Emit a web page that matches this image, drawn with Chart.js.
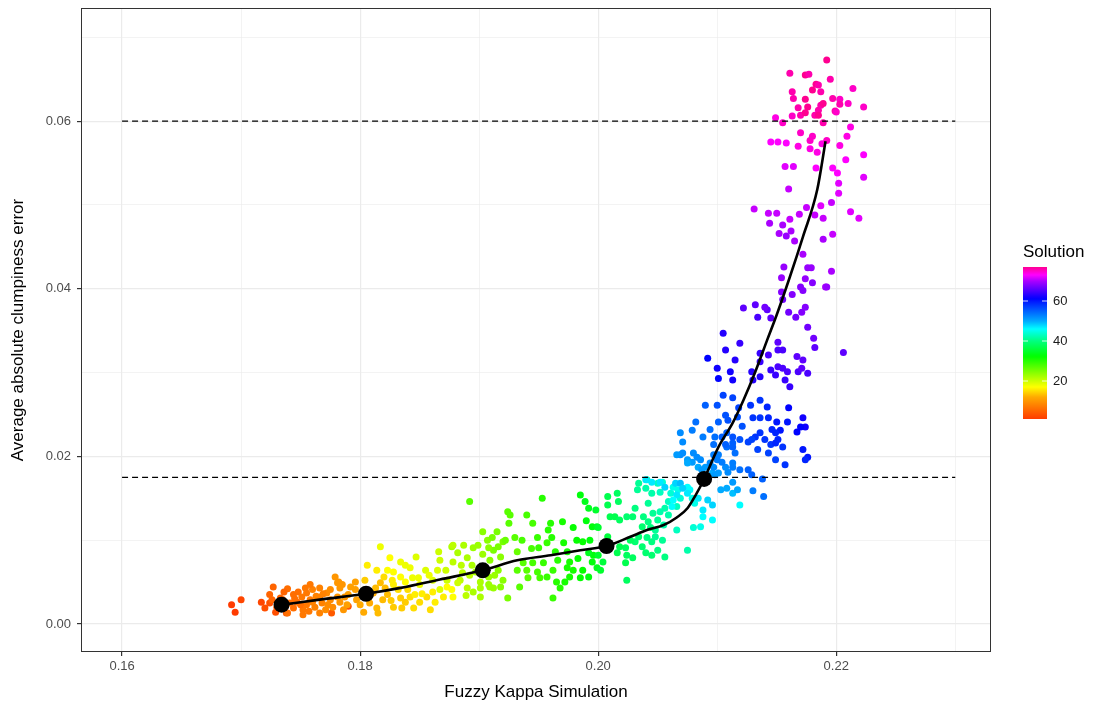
<!DOCTYPE html>
<html>
<head>
<meta charset="utf-8">
<script src="https://cdn.jsdelivr.net/npm/chart.js@4.4.0/dist/chart.umd.min.js"></script>
<style>
  body { margin: 0; background: #ffffff; }
  canvas { display: block; }
</style>
</head>
<body>
<canvas id="kappaChart" width="1103" height="707"></canvas>
<script>
// [fuzzy kappa, avg abs clumpiness error, solution]
const redOrangePts = [
  [0.1692,0.0023,1],[0.1695,0.0014,1],[0.1700,0.0029,2],[0.1717,0.0026,2],[0.1720,0.0019,3],
  [0.1724,0.0025,3],[0.1729,0.0014,3],[0.1738,0.0013,4],[0.1776,0.0013,4],[0.1790,0.0021,3],
  [0.1727,0.0044,5],[0.1739,0.0042,6],[0.1724,0.0035,5],[0.1726,0.0029,5],[0.1744,0.0035,6],
  [0.1748,0.0038,6],[0.1751,0.0032,7],[0.1755,0.0037,7],[0.1758,0.0029,7],[0.1760,0.0041,8],
  [0.1766,0.0043,8],[0.1766,0.0032,8],[0.1772,0.0037,9],[0.1775,0.0029,9],[0.1779,0.0056,10],
  [0.1781,0.0049,10],[0.1783,0.0043,10],[0.1777,0.0020,9],[0.1762,0.0020,8],[0.1752,0.0017,7],
  [0.1744,0.0019,6],[0.1739,0.0013,6],[0.1752,0.0011,7],[0.1766,0.0013,8],[0.1755,0.0023,7],
  [0.1747,0.0026,6],[0.1760,0.0026,8],[0.1768,0.0025,8],[0.1783,0.0026,10],[0.1789,0.0023,11],
  [0.1796,0.0050,11],[0.1796,0.0041,11],[0.1797,0.0029,11],[0.1790,0.0035,11],[0.1785,0.0047,10],
  [0.1782,0.0050,10],[0.1733,0.0031,5],[0.1736,0.0038,5],[0.1771,0.0017,9],[0.1763,0.0033,8],
  [0.1741,0.0025,6],[0.1754,0.0043,7],[0.1775,0.0041,9],[0.1787,0.0032,10],[0.1750,0.0023,6],
  [0.1735,0.0029,5],[0.1745,0.0030,6],[0.1757,0.0015,7],[0.1769,0.0036,8],[0.1773,0.0023,9],
  [0.1781,0.0032,10],[0.1786,0.0017,10],[0.1730,0.0020,4],[0.1758,0.0047,7],[0.1792,0.0044,11]
];
const yellowPts = [
  [0.1800,0.0023,12],[0.1803,0.0014,12],[0.1808,0.0025,12],[0.1814,0.0019,13],[0.1815,0.0013,13],
  [0.1819,0.0029,13],[0.1823,0.0035,13],[0.1828,0.0020,14],[0.1834,0.0031,14],[0.1835,0.0019,14],
  [0.1838,0.0026,14],[0.1842,0.0032,15],[0.1845,0.0019,15],[0.1811,0.0037,12],[0.1813,0.0043,13],
  [0.1817,0.0049,13],[0.1821,0.0043,13],[0.1850,0.0026,15],[0.1856,0.0032,15],[0.1859,0.0017,15],
  [0.1861,0.0038,16],[0.1863,0.0026,16],[0.1870,0.0032,16],[0.1877,0.0041,17],[0.1878,0.0032,17],
  [0.1873,0.0044,17],
  [0.1817,0.0092,18],[0.1825,0.0079,17],[0.1806,0.0070,16],[0.1814,0.0064,16],[0.1823,0.0064,17],
  [0.1828,0.0062,17],[0.1834,0.0074,18],[0.1838,0.0070,18],[0.1842,0.0067,18],[0.1834,0.0056,17],
  [0.1827,0.0052,16],[0.1838,0.0050,17],[0.1844,0.0055,18],[0.1828,0.0047,16],[0.1846,0.0035,16],
  [0.1849,0.0055,18],[0.1861,0.0052,19],[0.1866,0.0086,20],[0.1867,0.0076,20],[0.1865,0.0064,19],
  [0.1850,0.0047,18],[0.1855,0.0064,19],[0.1832,0.0041,15],[0.1804,0.0052,14],
  [0.1826,0.0028,14],[0.1840,0.0041,15],[0.1852,0.0036,16],[0.1858,0.0058,18],[0.1847,0.0080,19],
  [0.1820,0.0056,15]
];
const limePts = [
  [0.1877,0.0092,22],[0.1882,0.0085,22],[0.1878,0.0074,21],[0.1887,0.0094,22],[0.1890,0.0079,22],
  [0.1892,0.0146,27],[0.1895,0.0091,23],[0.1899,0.0094,23],[0.1903,0.0110,24],[0.1907,0.0100,24],
  [0.1909,0.0076,24],[0.1912,0.0088,25],[0.1915,0.0110,25],[0.1884,0.0052,21],[0.1890,0.0043,21],
  [0.1895,0.0038,22],[0.1901,0.0032,22],[0.1908,0.0047,23],[0.1912,0.0043,23],[0.1913,0.0058,23],
  [0.1901,0.0050,22],[0.1892,0.0058,21],[0.1882,0.0049,20],[0.1872,0.0064,20],[0.1878,0.0094,21],
  [0.1894,0.0070,22],[0.1908,0.0091,24],[0.1911,0.0103,25],[0.1916,0.0092,25],[0.1918,0.0080,24],
  [0.1886,0.0061,21],[0.1873,0.0052,20],[0.1867,0.0041,19],[0.1901,0.0043,22],[0.1908,0.0056,23],
  [0.1909,0.0044,23],[0.1916,0.0064,24],[0.1920,0.0052,24],[0.1918,0.0044,24],[0.1924,0.0031,25],
  [0.1885,0.0070,21],[0.1897,0.0062,22],[0.1904,0.0066,23],[0.1920,0.0098,25],[0.1903,0.0083,23],
  [0.1889,0.0034,21]
];
const greenPts = [
  [0.1922,0.0100,26],[0.1924,0.0134,27],[0.1926,0.0130,27],[0.1925,0.0120,27],[0.1930,0.0103,27],
  [0.1932,0.0086,26],[0.1936,0.0100,28],[0.1940,0.0130,28],[0.1945,0.0120,28],[0.1949,0.0103,29],
  [0.1950,0.0091,29],[0.1953,0.0150,30],[0.1957,0.0097,29],[0.1958,0.0112,30],[0.1961,0.0103,30],
  [0.1964,0.0086,30],[0.1966,0.0076,30],[0.1970,0.0122,31],[0.1971,0.0097,31],[0.1974,0.0086,31],
  [0.1976,0.0074,31],[0.1979,0.0115,32],[0.1982,0.0100,32],[0.1985,0.0154,33],[0.1987,0.0098,32],
  [0.1989,0.0146,34],[0.1992,0.0138,34],[0.1995,0.0116,33],[0.1993,0.0100,33],[0.1996,0.0082,33],
  [0.1999,0.0116,34],[0.1932,0.0064,27],[0.1937,0.0073,27],[0.1940,0.0064,27],[0.1941,0.0055,27],
  [0.1945,0.0073,28],[0.1949,0.0062,28],[0.1951,0.0055,28],[0.1954,0.0073,29],[0.1957,0.0056,29],
  [0.1962,0.0064,29],[0.1965,0.0050,30],[0.1968,0.0043,30],[0.1962,0.0031,29],[0.1974,0.0067,31],
  [0.1976,0.0056,31],[0.1979,0.0064,31],[0.1985,0.0055,32],[0.1987,0.0064,32],[0.1992,0.0056,33],
  [0.1995,0.0074,33],[0.1999,0.0067,34],[0.1992,0.0085,34],[0.2000,0.0082,35],[0.2002,0.0064,35],
  [0.1998,0.0136,35],[0.2000,0.0115,35],[0.2004,0.0074,36],[0.2008,0.0104,36],[0.2024,0.0052,38],
  [0.1934,0.0044,27],[0.1944,0.0090,28],[0.1960,0.0120,30],[0.1972,0.0050,31],[0.1983,0.0078,32],
  [0.1990,0.0123,33]
];
const cyanPts = [
  [0.2008,0.0152,37],[0.2008,0.0142,37],[0.2016,0.0156,38],[0.2017,0.0146,38],[0.2010,0.0128,37],
  [0.2014,0.0128,37],[0.2018,0.0124,38],[0.2024,0.0128,39],[0.2029,0.0128,39],[0.2031,0.0138,40],
  [0.2033,0.0160,41],[0.2034,0.0168,41],[0.2040,0.0162,42],[0.2041,0.0172,43],[0.2042,0.0144,41],
  [0.2045,0.0156,42],[0.2050,0.0168,43],[0.2052,0.0157,43],[0.2054,0.0169,44],[0.2038,0.0128,40],
  [0.2042,0.0122,40],[0.2046,0.0132,41],[0.2052,0.0134,42],[0.2056,0.0138,42],[0.2059,0.0146,43],
  [0.2061,0.0156,44],[0.2063,0.0163,45],[0.2067,0.0160,45],[0.2069,0.0150,44],[0.2075,0.0163,46],
  [0.2077,0.0160,46],[0.2079,0.0150,45],[0.2081,0.0144,45],[0.2066,0.0140,43],[0.2059,0.0130,42],
  [0.2055,0.0118,42],[0.2050,0.0124,41],[0.2048,0.0112,41],[0.2044,0.0115,40],[0.2041,0.0103,40],
  [0.2037,0.0116,39],[0.2034,0.0104,39],[0.2031,0.0098,39],[0.2027,0.0100,38],[0.2023,0.0091,38],
  [0.2018,0.0092,37],[0.2016,0.0085,37],[0.2024,0.0082,38],[0.2029,0.0079,38],[0.2023,0.0073,37],
  [0.2037,0.0092,39],[0.2040,0.0085,39],[0.2045,0.0098,40],[0.2048,0.0104,41],[0.2054,0.0100,41],
  [0.2056,0.0080,40],[0.2050,0.0088,40],[0.2045,0.0082,39],[0.2066,0.0112,43],[0.2075,0.0088,42],
  [0.2080,0.0115,44],[0.2086,0.0116,45],[0.2088,0.0128,46],[0.2096,0.0124,46],[0.2119,0.0142,46]
];
const azurePts = [
  [0.2040,0.0172,47],[0.2045,0.0169,47],[0.2052,0.0169,47],[0.2056,0.0163,48],[0.2065,0.0168,48],
  [0.2069,0.0168,49],[0.2071,0.0162,48],[0.2075,0.0156,47],[0.2066,0.0154,47],[0.2063,0.0148,46],
  [0.2062,0.0140,46],[0.2069,0.0202,52],[0.2071,0.0204,52],[0.2075,0.0196,51],[0.2079,0.0193,51],
  [0.2080,0.0204,52],[0.2083,0.0199,52],[0.2084,0.0187,50],[0.2090,0.0187,51],[0.2094,0.0192,52],
  [0.2097,0.0202,53],[0.2100,0.0196,53],[0.2096,0.0180,50],[0.2101,0.0180,51],[0.2103,0.0160,50],
  [0.2108,0.0162,50],[0.2113,0.0169,51],[0.2113,0.0156,49],[0.2117,0.0160,50],[0.2107,0.0187,52],
  [0.2113,0.0192,53],[0.2115,0.0204,54],[0.2108,0.0211,54],[0.2113,0.0216,55],[0.2096,0.0142,48],
  [0.2092,0.0148,48],[0.2084,0.0150,47],[0.2088,0.0136,47],[0.2138,0.0173,55],[0.2139,0.0152,54],
  [0.2130,0.0159,53]
];
const bluePts = [
  [0.2105,0.0273,57],[0.2113,0.0270,57],[0.2128,0.0261,58],[0.2136,0.0267,58],[0.2142,0.0259,59],
  [0.2090,0.0261,55],[0.2100,0.0261,56],[0.2118,0.0258,57],[0.2107,0.0249,56],[0.2109,0.0243,56],
  [0.2101,0.0241,55],[0.2082,0.0241,54],[0.2130,0.0246,58],[0.2136,0.0246,58],[0.2143,0.0246,59],
  [0.2150,0.0241,60],[0.2160,0.0258,61],[0.2159,0.0241,60],[0.2172,0.0246,62],[0.2174,0.0235,62],
  [0.2170,0.0235,61],[0.2167,0.0229,61],[0.2153,0.0231,60],[0.2149,0.0228,59],[0.2136,0.0228,58],
  [0.2132,0.0223,58],[0.2129,0.0220,57],[0.2140,0.0220,58],[0.2145,0.0214,58],[0.2149,0.0216,59],
  [0.2151,0.0220,59],[0.2126,0.0217,57],[0.2119,0.0220,56],[0.2113,0.0223,56],[0.2108,0.0228,55],
  [0.2104,0.0223,55],[0.2107,0.0214,55],[0.2113,0.0211,55],[0.2097,0.0214,54],[0.2098,0.0223,54],
  [0.2088,0.0223,53],[0.2069,0.0228,52],[0.2071,0.0217,52],[0.2079,0.0231,53],[0.2066,0.0202,51],
  [0.2075,0.0192,50],[0.2086,0.0196,52],[0.2087,0.0184,51],[0.2097,0.0187,52],[0.2101,0.0202,53],
  [0.2104,0.0193,53],[0.2113,0.0187,53],[0.2119,0.0184,54],[0.2109,0.0181,52],[0.2098,0.0178,51],
  [0.2126,0.0184,55],[0.2129,0.0178,55],[0.2143,0.0204,57],[0.2149,0.0196,57],[0.2157,0.0190,58],
  [0.2172,0.0208,60],[0.2176,0.0199,60],[0.2174,0.0196,59],[0.2155,0.0211,58],
  [0.2121,0.0236,56],[0.2134,0.0208,57],[0.2146,0.0232,59],[0.2117,0.0247,56],[0.2094,0.0232,54]
];
const violetPts = [
  [0.2122,0.0377,66],[0.2132,0.0381,66],[0.2134,0.0366,65],[0.2142,0.0375,66],[0.2145,0.0365,66],
  [0.2155,0.0387,67],[0.2160,0.0372,67],[0.2166,0.0366,67],[0.2171,0.0372,68],[0.2174,0.0378,68],
  [0.2176,0.0354,67],[0.2181,0.0341,67],[0.2182,0.0330,66],[0.2105,0.0347,63],[0.2119,0.0335,64],
  [0.2107,0.0327,63],[0.2092,0.0317,61],[0.2115,0.0315,63],[0.2100,0.0305,62],[0.2111,0.0301,62],
  [0.2101,0.0293,61],[0.2113,0.0291,62],[0.2129,0.0301,63],[0.2136,0.0323,64],[0.2136,0.0313,64],
  [0.2143,0.0321,65],[0.2151,0.0336,66],[0.2151,0.0327,65],[0.2155,0.0327,65],[0.2145,0.0303,64],
  [0.2149,0.0297,64],[0.2151,0.0307,65],[0.2155,0.0305,65],[0.2159,0.0301,65],[0.2157,0.0291,64],
  [0.2161,0.0283,64],[0.2167,0.0319,66],[0.2168,0.0301,65],[0.2172,0.0315,66],[0.2171,0.0305,66],
  [0.2176,0.0299,65],[0.2130,0.0291,63],[0.2136,0.0295,63],[0.2191,0.0402,70],[0.2206,0.0324,66],
  [0.2140,0.0378,67]
];
const magentaPts = [
  [0.2145,0.0575,73],[0.2151,0.0575,73],[0.2158,0.0574,73],[0.2168,0.0570,74],[0.2178,0.0567,74],
  [0.2184,0.0563,74],[0.2188,0.0573,74],[0.2192,0.0577,75],[0.2203,0.0571,74],[0.2223,0.0560,73],
  [0.2208,0.0554,73],[0.2157,0.0546,72],[0.2164,0.0546,72],[0.2183,0.0544,73],[0.2197,0.0544,73],
  [0.2201,0.0538,73],[0.2223,0.0533,72],[0.2202,0.0526,72],[0.2202,0.0514,72],[0.2160,0.0519,71],
  [0.2196,0.0503,71],[0.2131,0.0495,71],[0.2143,0.0490,71],[0.2150,0.0490,71],[0.2161,0.0483,71],
  [0.2169,0.0489,71],[0.2175,0.0497,71],[0.2182,0.0488,71],[0.2187,0.0499,72],[0.2189,0.0484,71],
  [0.2212,0.0492,72],[0.2219,0.0484,72],[0.2144,0.0478,70],[0.2155,0.0476,70],[0.2152,0.0466,70],
  [0.2158,0.0463,69],[0.2162,0.0469,70],[0.2165,0.0457,70],[0.2189,0.0459,70],[0.2197,0.0465,71],
  [0.2172,0.0441,70],[0.2156,0.0426,69],[0.2176,0.0425,69],[0.2179,0.0425,69],[0.2196,0.0421,70],
  [0.2154,0.0413,69],[0.2174,0.0412,69],[0.2180,0.0407,68],[0.2170,0.0402,68],[0.2192,0.0402,69],
  [0.2154,0.0396,68],[0.2172,0.0398,68],[0.2163,0.0393,68]
];
const pinkPts = [
  [0.2192,0.0673,77],[0.2161,0.0657,76],[0.2174,0.0655,77],[0.2177,0.0656,76],[0.2195,0.0650,76],
  [0.2183,0.0644,77],[0.2185,0.0643,76],[0.2163,0.0635,76],[0.2180,0.0637,77],[0.2187,0.0635,76],
  [0.2214,0.0639,75],[0.2164,0.0627,76],[0.2174,0.0626,77],[0.2197,0.0627,76],[0.2203,0.0626,75],
  [0.2203,0.0620,76],[0.2210,0.0621,75],[0.2223,0.0617,75],[0.2168,0.0616,76],[0.2176,0.0617,77],
  [0.2187,0.0619,76],[0.2189,0.0621,77],[0.2185,0.0613,76],[0.2199,0.0612,76],[0.2200,0.0611,75],
  [0.2170,0.0607,76],[0.2174,0.0610,77],[0.2163,0.0606,75],[0.2182,0.0607,76],[0.2185,0.0607,77],
  [0.2149,0.0604,74],[0.2155,0.0598,75],[0.2189,0.0598,76],[0.2212,0.0593,74],[0.2170,0.0586,75],
  [0.2180,0.0582,75],[0.2178,0.0577,75],[0.2209,0.0582,74]
];

// smoothed trend
const smoothKappa = [0.1735,0.1766,0.1805,0.1834,0.1867,0.1903,0.1932,0.1960,0.1985,0.2007,
  0.2027,0.2041,0.2055,0.2066,0.2075,0.2082,0.2089,0.2101,0.2113,0.2122,0.2132,0.2142,0.2150,
  0.2161,0.2172,0.2184,0.2191];
const smoothClump = [0.0023,0.0029,0.0036,0.0043,0.0053,0.0064,0.0076,0.0082,0.0088,0.0093,
  0.0104,0.0112,0.0118,0.0127,0.0138,0.0154,0.0173,0.0211,0.0240,0.0267,0.0301,0.0339,0.0369,
  0.0414,0.0462,0.0518,0.0576];

// highlighted solutions
const knotKappa = [0.1734, 0.1805, 0.1903, 0.2007, 0.2089];
const knotClump = [0.0023, 0.0036, 0.0064, 0.0093, 0.0173];

const thresholds = [0.06, 0.0175];
const xTickVals = [0.16, 0.17, 0.18, 0.19, 0.20, 0.21, 0.22, 0.23];
const yTickVals = [0.00, 0.01, 0.02, 0.03, 0.04, 0.05, 0.06, 0.07];
const colorbarLabels = [20, 40, 60];
const solRange = [1, 77];
const hueStops = [[1, 14], [12, 40], [20, 72], [40, 150], [50, 200], [60, 235], [70, 280], [77, 326]];

function solutionColor(s) {
  let h = hueStops[hueStops.length - 1][1];
  for (let i = 1; i < hueStops.length; i++) {
    if (s <= hueStops[i][0]) {
      let [s0, h0] = hueStops[i - 1], [s1, h1] = hueStops[i];
      h = h0 + (h1 - h0) * (s - s0) / (s1 - s0);
      break;
    }
  }
  return 'hsl(' + h.toFixed(1) + ',100%,50%)';
}

function isMajor(v) {
  return Math.round(v * 100) % 2 === 0;
}

const allPts = [].concat(redOrangePts, yellowPts, limePts, greenPts, cyanPts,
  azurePts, bluePts, violetPts, magentaPts, pinkPts);

const FONT = '"Liberation Sans", Arial, sans-serif';

// panel border + colorbar legend
const extras = {
  id: 'extras',
  afterDraw(chart) {
    const ctx = chart.ctx, a = chart.chartArea;
    ctx.save();
    ctx.strokeStyle = '#333333';
    ctx.lineWidth = 1;
    ctx.strokeRect(a.left + 0.5, a.top + 0.5, a.right - a.left - 1, a.bottom - a.top - 1);

    // colorbar
    const bx = 1023, bw = 24, top = 267, bottom = 419;
    const grad = ctx.createLinearGradient(0, bottom, 0, top);
    for (let s = solRange[0]; s <= solRange[1]; s++) {
      grad.addColorStop((s - solRange[0]) / (solRange[1] - solRange[0]), solutionColor(s));
    }
    ctx.fillStyle = grad;
    ctx.fillRect(bx, top, bw, bottom - top);

    ctx.fillStyle = '#000000';
    ctx.font = '17px ' + FONT;
    ctx.textBaseline = 'middle';
    ctx.textAlign = 'left';
    ctx.fillText('Solution', 1023, 252);

    ctx.font = '13px ' + FONT;
    ctx.fillStyle = '#1a1a1a';
    colorbarLabels.forEach(v => {
      let y = bottom - (v - solRange[0]) / (solRange[1] - solRange[0]) * (bottom - top);
      ctx.strokeStyle = 'rgba(255,255,255,0.8)';
      ctx.beginPath();
      ctx.moveTo(bx, y); ctx.lineTo(bx + 5, y);
      ctx.moveTo(bx + bw - 5, y); ctx.lineTo(bx + bw, y);
      ctx.stroke();
      ctx.fillText(String(v), 1053, y);
    });
    ctx.restore();
  }
};

new Chart(document.getElementById('kappaChart').getContext('2d'), {
  data: {
    datasets: [
      {
        type: 'scatter',
        label: 'knots',
        data: knotKappa.map((x, i) => ({ x: x, y: knotClump[i] })),
        backgroundColor: '#000000',
        borderWidth: 0,
        pointRadius: 8,
        order: 0
      },
      {
        type: 'line',
        label: 'trend',
        data: smoothKappa.map((x, i) => ({ x: x, y: smoothClump[i] })),
        borderColor: '#000000',
        borderWidth: 2.6,
        pointRadius: 0,
        cubicInterpolationMode: 'monotone',
        fill: false,
        order: 1
      },
      ...thresholds.map(t => ({
        type: 'line',
        label: 'threshold',
        data: [{ x: 0.16, y: t }, { x: 0.23, y: t }],
        borderColor: '#000000',
        borderWidth: 1.2,
        borderDash: [6, 4],
        pointRadius: 0,
        fill: false,
        order: 2
      })),
      {
        type: 'scatter',
        label: 'solutions',
        data: allPts.map(p => ({ x: p[0], y: p[1], s: p[2] })),
        backgroundColor: ctx => ctx.raw ? solutionColor(ctx.raw.s) : '#000',
        borderWidth: 0,
        pointRadius: 3.5,
        order: 3
      }
    ]
  },
  options: {
    responsive: false,
    animation: false,
    events: [],
    layout: { padding: { left: 0, right: 112, top: 8, bottom: 0 } },
    plugins: { legend: { display: false }, tooltip: { enabled: false } },
    scales: {
      x: {
        type: 'linear',
        min: 0.15655,
        max: 0.2330,
        afterBuildTicks: s => { s.ticks = xTickVals.map(v => ({ value: v })); },
        afterFit: s => { s.height = 55; s.paddingLeft = 0; s.paddingRight = 0; },
        ticks: {
          autoSkip: false,
          maxRotation: 0,
          padding: 3,
          color: '#4D4D4D',
          font: { family: FONT, size: 13 },
          callback: v => isMajor(v) ? v.toFixed(2) : ''
        },
        grid: {
          color: '#EBEBEB',
          lineWidth: c => isMajor(c.tick.value) ? 1.2 : 0.6,
          tickLength: 4,
          tickColor: c => isMajor(c.tick.value) ? '#333333' : 'rgba(0,0,0,0)'
        },
        border: { display: false },
        title: {
          display: true,
          text: 'Fuzzy Kappa Simulation',
          color: '#000000',
          font: { family: FONT, size: 17 },
          padding: { top: 0, bottom: 4 }
        }
      },
      y: {
        type: 'linear',
        min: -0.00335,
        max: 0.0735,
        afterBuildTicks: s => { s.ticks = yTickVals.map(v => ({ value: v })); },
        afterFit: s => { s.width = 81; s.paddingTop = 0; s.paddingBottom = 0; },
        ticks: {
          autoSkip: false,
          padding: 6,
          color: '#4D4D4D',
          font: { family: FONT, size: 13 },
          callback: v => isMajor(v) ? v.toFixed(2) : ''
        },
        grid: {
          color: '#EBEBEB',
          lineWidth: c => isMajor(c.tick.value) ? 1.2 : 0.6,
          tickLength: 4,
          tickColor: c => isMajor(c.tick.value) ? '#333333' : 'rgba(0,0,0,0)'
        },
        border: { display: false },
        title: {
          display: true,
          text: 'Average absolute clumpiness error',
          color: '#000000',
          font: { family: FONT, size: 17 },
          padding: { top: 8, bottom: 0 }
        }
      }
    }
  },
  plugins: [extras]
});
</script>
</body>
</html>
